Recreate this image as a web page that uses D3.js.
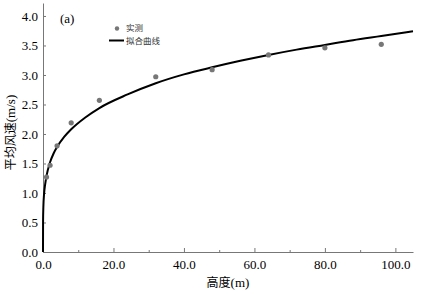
<!DOCTYPE html>
<html>
<head>
<meta charset="utf-8">
<style>
  body { margin:0; background:#fff; }
  .axis text { font-family:"Liberation Serif", serif; font-size:13px; fill:#000; }
  .axis .domain, .axis .tick line { stroke:#777; }
  .title { font-family:"Noto Sans CJK SC", "Liberation Serif", serif; font-size:12px; fill:#000; }
  .title .lat { font-family:"Liberation Serif", serif; font-size:13px; }
  .legend text { font-family:"Noto Sans CJK SC", sans-serif; font-size:8.5px; fill:#333; }
</style>
</head>
<body>
<div class="graph"></div>
<script src="https://cdnjs.cloudflare.com/ajax/libs/d3/7.8.5/d3.min.js"></script>
<script>
// measured points (height m, mean speed m/s)
var heights = [1, 2, 4, 8, 16, 32, 48, 64, 80, 96];
var speeds = [1.27, 1.47, 1.8, 2.19, 2.57, 2.97, 3.09, 3.34, 3.46, 3.52];

// fitted curve
var fitH = [0, 0.02, 0.1, 0.3, 0.6, 1, 2, 3, 4, 6, 8, 12, 16, 24, 32, 40, 48, 56, 64, 72, 80, 88, 96, 105];
var fitV = [0, 0.52, 0.76, 0.98, 1.14, 1.29, 1.52, 1.67, 1.78, 1.95, 2.08, 2.28, 2.44, 2.67, 2.86, 3.01, 3.13, 3.24, 3.34, 3.43, 3.51, 3.59, 3.66, 3.74];

var xTicks = [0, 20, 40, 60, 80, 100];
var xMinor = [10, 30, 50, 70, 90];
var yTicks = [0, 0.5, 1, 1.5, 2, 2.5, 3, 3.5, 4];

var width = 425, height = 295;
var mLeft = 43, mRight = 413, mTop = 3, mBottom = 252;

var x = d3.scaleLinear().domain([0, 105]).range([mLeft, mRight]);
var y = d3.scaleLinear().domain([0, 4.22]).range([mBottom, mTop]);

var svg = d3.select(".graph").append("svg")
  .attr("width", width)
  .attr("height", height);

svg.append("g")
  .attr("class", "x axis")
  .attr("transform", "translate(0," + mBottom + ")")
  .call(d3.axisBottom(x).tickValues(xTicks).tickSizeInner(-4).tickSizeOuter(0).tickPadding(8)
    .tickFormat(d3.format(".1f")));

svg.append("g")
  .attr("class", "x axis minor")
  .attr("transform", "translate(0," + mBottom + ")")
  .call(d3.axisBottom(x).tickValues(xMinor).tickSizeInner(-2).tickSizeOuter(0).tickFormat(""))
  .select(".domain").remove();

svg.append("g")
  .attr("class", "y axis")
  .attr("transform", "translate(" + mLeft + ",0)")
  .call(d3.axisLeft(y).tickValues(yTicks).tickSizeInner(-3).tickSizeOuter(0).tickPadding(5)
    .tickFormat(d3.format(".1f")));

var line = d3.line()
  .curve(d3.curveMonotoneX)
  .x(function (d, i) { return x(fitH[i]); })
  .y(function (d) { return y(d); });

svg.append("path")
  .datum(fitV)
  .attr("fill", "none")
  .attr("stroke", "#000")
  .attr("stroke-width", 2)
  .attr("d", line);

svg.append("g").selectAll("circle")
  .data(speeds)
  .enter().append("circle")
  .attr("cx", function (d, i) { return x(heights[i]); })
  .attr("cy", function (d) { return y(d); })
  .attr("r", 2.6)
  .attr("fill", "#777");

svg.append("text")
  .attr("x", 60).attr("y", 23)
  .style("font-family", "Liberation Serif, serif")
  .style("font-size", "13px")
  .text("(a)");

var legend = svg.append("g").attr("class", "legend");
legend.append("circle").attr("cx", 117).attr("cy", 28.5).attr("r", 2.2).attr("fill", "#777");
legend.append("text").attr("x", 126).attr("y", 31).text("实测");
legend.append("line").attr("x1", 109).attr("x2", 124).attr("y1", 40.5).attr("y2", 40.5)
  .attr("stroke", "#000").attr("stroke-width", 2);
legend.append("text").attr("x", 126).attr("y", 43.5).text("拟合曲线");

var xt = svg.append("text")
  .attr("class", "title")
  .attr("x", (mLeft + mRight) / 2)
  .attr("y", 287)
  .attr("text-anchor", "middle");
xt.append("tspan").text("高度");
xt.append("tspan").attr("class", "lat").text("(m)");

var yt = svg.append("text")
  .attr("class", "title")
  .attr("transform", "translate(15," + ((mTop + mBottom) / 2 + 5) + ") rotate(-90)")
  .attr("text-anchor", "middle");
yt.append("tspan").text("平均风速");
yt.append("tspan").attr("class", "lat").text("(m/s)");
</script>
</body>
</html>
